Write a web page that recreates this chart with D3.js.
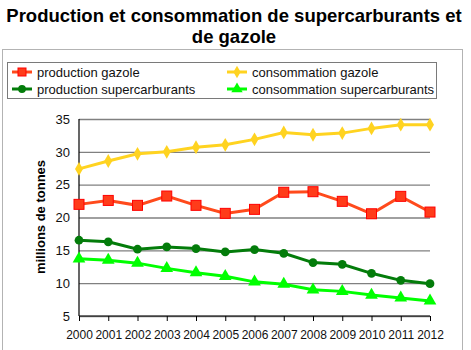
<!DOCTYPE html>
<html>
<head>
<meta charset="utf-8">
<script src="https://cdn.jsdelivr.net/npm/d3@7"></script>
<style>
  body { margin: 0; background: #fff; }
  svg text { font-family: "Liberation Sans", Arial, sans-serif; }
</style>
</head>
<body>
<svg id="chart"></svg>
<script>
// data
const years = [2000, 2001, 2002, 2003, 2004, 2005, 2006, 2007, 2008, 2009, 2010, 2011, 2012];
const productionGazole = [22.0, 22.6, 21.85, 23.27, 21.85, 20.63, 21.24, 23.84, 23.93, 22.46, 20.57, 23.22, 20.83];
const consommationGazole = [27.4, 28.6, 29.7, 30.0, 30.7, 31.07, 31.9, 32.95, 32.6, 32.85, 33.57, 34.13, 34.13];
const productionSuper = [16.54, 16.29, 15.17, 15.52, 15.27, 14.76, 15.12, 14.55, 13.13, 12.87, 11.5, 10.43, 9.92];
const consommationSuper = [13.7, 13.5, 13.05, 12.25, 11.6, 11.05, 10.2, 9.85, 9.0, 8.75, 8.2, 7.75, 7.3];
const yTicks = [5, 10, 15, 20, 25, 30, 35];

const series = [
  {name: 'production gazole', values: productionGazole, color: '#ff4a1c', marker: 'square'},
  {name: 'consommation gazole', values: consommationGazole, color: '#ffd320', marker: 'diamond'},
  {name: 'production supercarburants', values: productionSuper, color: '#037c0a', marker: 'circle'},
  {name: 'consommation supercarburants', values: consommationSuper, color: '#00ff00', marker: 'triangle'}
];

const width = 471, height = 350;
const margin = {top: 119, right: 41, bottom: 34, left: 79};

const svg = d3.select('#chart')
    .attr('width', width)
    .attr('height', height);

// outer frame
svg.append('rect')
    .attr('x', 2.5).attr('y', 49.5)
    .attr('width', 460).attr('height', 310)
    .attr('fill', 'none').attr('stroke', '#b3b3b3');

// title
svg.append('text')
    .attr('x', 234).attr('y', 22)
    .attr('text-anchor', 'middle')
    .style('font-size', '18.5px').style('font-weight', 'bold')
    .text('Production et consommation de supercarburants et');
svg.append('text')
    .attr('x', 234).attr('y', 43)
    .attr('text-anchor', 'middle')
    .style('font-size', '18.5px').style('font-weight', 'bold')
    .text('de gazole');

const innerW = 430 - margin.left;
const innerH = 316 - margin.top;

const xScale = d3.scalePoint().domain(years).range([0, innerW]);
const yScale = d3.scaleLinear().domain([5, 35]).range([innerH, 0]);

const chart = svg.append('g')
    .attr('transform', `translate(${margin.left},${margin.top})`);

// gridlines
const yAxis = d3.axisLeft(yScale)
    .tickValues(yTicks)
    .tickSize(-innerW)
    .tickPadding(9);

chart.append('g')
    .attr('class', 'y-axis')
    .call(yAxis)
    .call(g => g.select('.domain').remove())
    .call(g => g.selectAll('.tick line').attr('stroke', '#808080').attr('stroke-width', 1.3))
    .call(g => g.selectAll('.tick text').style('font-size', '13px').attr('fill', '#111'));

chart.append('line')
    .attr('x1', 0).attr('x2', 0).attr('y1', 0).attr('y2', innerH)
    .attr('stroke', '#000').attr('stroke-width', 1.2);

const xAxis = d3.axisBottom(xScale)
    .tickSize(5)
    .tickPadding(9);

chart.append('g')
    .attr('transform', `translate(0,${innerH})`)
    .call(xAxis)
    .call(g => g.select('.domain').attr('stroke-width', 1.2).attr('d', `M0,0H${innerW}`))
    .call(g => g.selectAll('.tick text').style('font-size', '12px').attr('fill', '#111'));

// axis title
svg.append('text')
    .attr('transform', 'translate(45,217) rotate(-90)')
    .attr('text-anchor', 'middle')
    .style('font-size', '13px').style('font-weight', 'bold')
    .text('millions de tonnes');

const line = d3.line()
    .x((d, i) => xScale(years[i]))
    .y(d => yScale(d));

function drawMarker(g, type, color, size) {
    if (type === 'square') {
        g.append('rect')
            .attr('x', -size).attr('y', -size)
            .attr('width', size * 2).attr('height', size * 2)
            .attr('fill', '#ff3c1a').attr('stroke', '#ff0000').attr('stroke-width', 1);
    } else {
        const sym = {diamond: d3.symbolDiamond, circle: d3.symbolCircle, triangle: d3.symbolTriangle}[type];
        const area = {diamond: 55, circle: 60, triangle: 70}[type];
        g.append('path')
            .attr('d', d3.symbol().type(sym).size(area * size / 5)())
            .attr('fill', color);
    }
}

series.forEach(s => {
    chart.append('path')
        .datum(s.values)
        .attr('fill', 'none')
        .attr('stroke', s.color)
        .attr('stroke-width', 3)
        .attr('d', line);
    s.values.forEach((v, i) => {
        const g = chart.append('g')
            .attr('transform', `translate(${xScale(years[i])},${yScale(v)})`);
        drawMarker(g, s.marker, s.color, 5);
    });
});

// legend
svg.append('rect')
    .attr('x', 7.5).attr('y', 62.5)
    .attr('width', 429).attr('height', 36)
    .attr('fill', 'none').attr('stroke', '#7a7a7a').attr('stroke-width', 1);

const legendPos = [[12, 72], [227, 72], [12, 89], [227, 89]];
series.forEach((s, i) => {
    const [lx, ly] = legendPos[i];
    svg.append('line')
        .attr('x1', lx).attr('x2', lx + 20)
        .attr('y1', ly).attr('y2', ly)
        .attr('stroke', s.color).attr('stroke-width', 3);
    const g = svg.append('g').attr('transform', `translate(${lx + 10},${ly})`);
    drawMarker(g, s.marker, s.color, 4);
    svg.append('text')
        .attr('x', lx + 25).attr('y', ly + 4.5)
        .style('font-size', '13px').attr('fill', '#111')
        .text(s.name);
});
</script>
</body>
</html>
